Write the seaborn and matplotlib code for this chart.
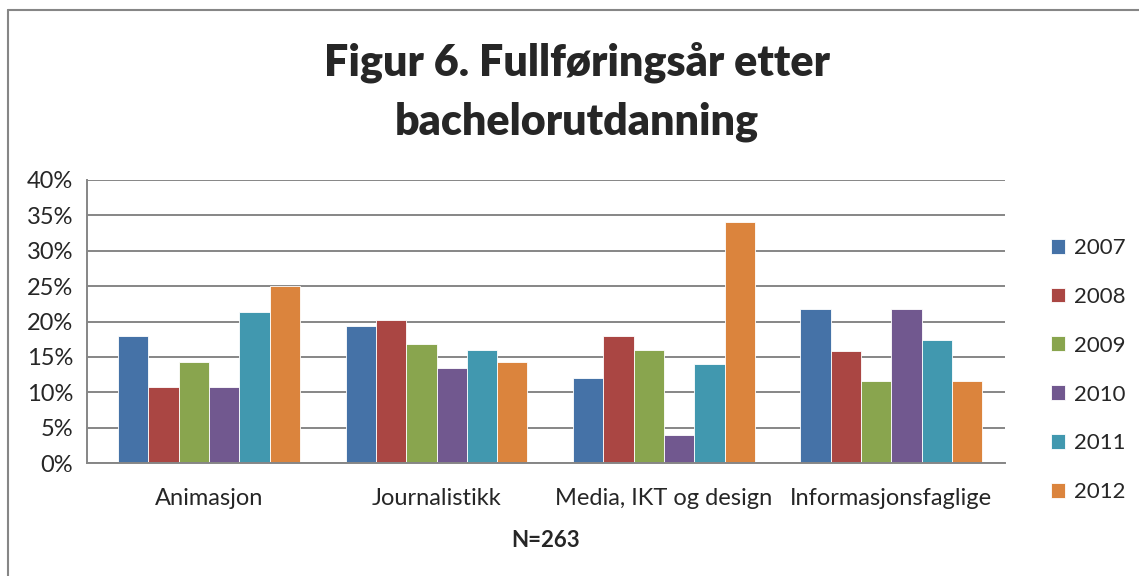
import pandas as pd
import seaborn as sns
import matplotlib.pyplot as plt
from matplotlib.lines import Line2D
from matplotlib.ticker import PercentFormatter

# data (percent of graduates per year)
programs = ['Animasjon', 'Journalistikk', 'Media, IKT og design', 'Informasjonsfaglige']
years = ['2007', '2008', '2009', '2010', '2011', '2012']
y2007 = [17.9, 19.3, 12.0, 21.7]
y2008 = [10.7, 20.2, 18.0, 15.9]
y2009 = [14.3, 16.8, 16.0, 11.6]
y2010 = [10.7, 13.4, 4.0, 21.7]
y2011 = [21.4, 16.0, 14.0, 17.4]
y2012 = [25.0, 14.3, 34.0, 11.6]
colors = ['#4572A7', '#AA4643', '#89A54E', '#71588F', '#4198AF', '#DB843D']

series = [y2007, y2008, y2009, y2010, y2011, y2012]
rows = []
for yr, vals in zip(years, series):
    for prog, v in zip(programs, vals):
        rows.append({'Program': prog, 'År': yr, 'Andel': v})
df = pd.DataFrame(rows)

sns.set_style('white')
plt.rcParams['font.family'] = ['Lato', 'DejaVu Sans']

fig = plt.figure(figsize=(11.39, 5.76), dpi=100)
ax = fig.add_axes([87 / 1139, 1 - 463 / 576, (1005 - 87) / 1139, (463 - 180) / 576])

sns.barplot(data=df, x='Program', y='Andel', hue='År', order=programs,
            hue_order=years, palette=colors, width=0.8, saturation=1,
            edgecolor='white', linewidth=0.6, ax=ax, legend=True)

ax.set_ylim(0, 40)
ax.set_yticks(range(0, 41, 5))
ax.yaxis.set_major_formatter(PercentFormatter(decimals=0))
ax.set_xlim(-0.537, 3.5)
ax.grid(axis='y', color='#868686', linewidth=1.4)
ax.set_axisbelow(True)
for s in ['top', 'right']:
    ax.spines[s].set_visible(False)
for s in ['left', 'bottom']:
    ax.spines[s].set_color('#868686')
    ax.spines[s].set_linewidth(1.4)
ax.tick_params(axis='y', length=5, width=1.4, color='#868686', labelsize=17, pad=5)
ax.tick_params(axis='x', length=0, labelsize=17, pad=18)
ax.set_xlabel('N=263', fontsize=16, fontweight='bold', labelpad=15)
ax.set_ylabel('')

handles, labels = ax.get_legend_handles_labels()
ax.get_legend().remove()
fig.legend(handles, labels, loc='upper left', bbox_to_anchor=(1042 / 1139, 1 - 229 / 576),
           frameon=False, fontsize=16, labelspacing=1.3, handlelength=0.65,
           handleheight=0.65, handletextpad=0.4, borderaxespad=0)

fig.text(577 / 1139, 1 - 62 / 576, 'Figur 6. Fullføringsår etter', ha='center', va='center',
         fontsize=31, fontweight='heavy')
fig.text(577 / 1139, 1 - 122 / 576, 'bachelorutdanning', ha='center', va='center',
         fontsize=31, fontweight='heavy')

# outer chart border (top and left edges visible)
fig.add_artist(Line2D([7.5 / 1139, 1], [1 - 9.5 / 576, 1 - 9.5 / 576], transform=fig.transFigure,
                      color='#868686', linewidth=1.5))
fig.add_artist(Line2D([7.5 / 1139, 7.5 / 1139], [0, 1 - 9.5 / 576], transform=fig.transFigure,
                      color='#868686', linewidth=1.5))

fig.savefig('out.png', dpi=100)
